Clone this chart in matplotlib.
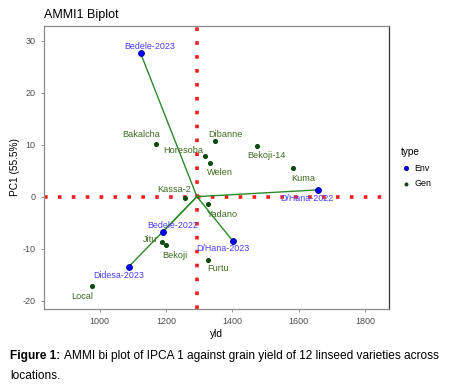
import matplotlib
matplotlib.use('Agg')
import matplotlib.pyplot as plt

plt.rcParams['font.family'] = ['Liberation Sans', 'DejaVu Sans']
plt.rcParams['axes.unicode_minus'] = False

# environment scores (yield, PC1)
env_names = ['Bedele-2023', 'D/Hana-2022', 'D/Hana-2023', 'Bedele-2022', 'Didesa-2023']
env_yld = [1123, 1659, 1401, 1190, 1087]
env_pc1 = [27.6, 1.3, -8.5, -6.8, -13.5]

# genotype scores
gen_names = ['Local', 'Jitu', 'Bekoji', 'Kassa-2', 'Yadano', 'Furtu',
             'Bakalcha', 'Horesoba', 'Dibanne', 'Welen', 'Bekoji-14', 'Kuma']
gen_yld = [977, 1189, 1200, 1258, 1327, 1327, 1170, 1316, 1346, 1331, 1473, 1583]
gen_pc1 = [-17.2, -8.8, -9.3, -0.3, -1.5, -12.1, 10.1, 7.8, 10.7, 6.4, 9.7, 5.5]

mean_yld = 1293
pc_var = 55.5

# label offsets in pixels (dx, dy), dy positive = up
env_off = {'Bedele-2023': (9, 7), 'D/Hana-2022': (-11, -9), 'D/Hana-2023': (-10, -8),
           'Bedele-2022': (10, 6.5), 'Didesa-2023': (-10, -9)}
gen_off = {'Local': (-10, -10.5), 'Jitu': (-12, 2.7), 'Bekoji': (9, -10.7),
           'Kassa-2': (-10.7, 8.3), 'Yadano': (14.6, -10), 'Furtu': (10, -9.3),
           'Bakalcha': (-14.7, 9.3), 'Horesoba': (-21, 5.7), 'Dibanne': (10.5, 6.7),
           'Welen': (10, -9.3), 'Bekoji-14': (10, -9.3), 'Kuma': (10.3, -10.6)}

fig = plt.figure(figsize=(4.52, 3.89), dpi=100)
ax = fig.add_axes([44/452, 1-309/389, 345/452, 283/389])

ax.set_xlim(832, 1872)
ax.set_ylim(-21.6, 32.8)

ax.axhline(0, color='#ff1a1a', lw=2.6, ls=(0, (1, 2.85)), dash_capstyle='butt', zorder=1)
ax.axvline(mean_yld, color='#ff1a1a', lw=2.6, ls=(0, (1, 2.85)), dash_capstyle='butt', zorder=1)

for x, y in zip(env_yld, env_pc1):
    ax.plot([mean_yld, x], [0, y], color='#2a8a2a', lw=1.0, zorder=2)

env_pts = ax.scatter(env_yld, env_pc1, s=18, c='#0000ff', edgecolors='#00008b',
                     linewidths=0.6, zorder=4, label='Env')
gen_pts = ax.scatter(gen_yld, gen_pc1, s=7, c='#0b4a0b', zorder=4, label='Gen')

for n, x, y in zip(env_names, env_yld, env_pc1):
    ax.annotate(n, (x, y), xytext=env_off[n], textcoords='offset pixels',
                ha='center', va='center', fontsize=6.4, color='#4a3cff', zorder=5)
for n, x, y in zip(gen_names, gen_yld, gen_pc1):
    ax.annotate(n, (x, y), xytext=gen_off[n], textcoords='offset pixels',
                ha='center', va='center', fontsize=6.6, color='#3d6b1e', zorder=5)

ax.set_xticks([1000, 1200, 1400, 1600, 1800])
ax.set_yticks([-20, -10, 0, 10, 20, 30])
ax.tick_params(colors='#7f7f7f', labelcolor='#4d4d4d', labelsize=6.5, length=2.5, width=0.6)
for s in ax.spines.values():
    s.set_color('#8c8c8c')
    s.set_linewidth(0.9)
ax.spines['right'].set_color('#333333')

ax.set_xlabel('yld', fontsize=7.3, labelpad=2)
ax.set_ylabel('PC1 (%.1f%%)' % pc_var, fontsize=7.3, labelpad=2)

fig.text(44/452, 1-15/389, 'AMMI1 Biplot', fontsize=9, va='center', ha='left')

leg = ax.legend(handles=[env_pts, gen_pts], title='type', loc='upper left',
                bbox_to_anchor=(393/452, 1-139/389), bbox_transform=fig.transFigure,
                frameon=False, fontsize=6.4, title_fontsize=7.2, handletextpad=0.3,
                markerscale=0.7, labelspacing=0.75, handlelength=1.2)
leg._legend_box.align = 'left'

fig.text(10/452, 1-356/389, 'Figure 1:', fontsize=8.6, fontweight='bold', va='center')
fig.text(64/452, 1-356/389, 'AMMI bi plot of IPCA 1 against grain yield of 12 linseed varieties across',
         fontsize=8.6, va='center')
fig.text(10/452, 1-376/389, 'locations.', fontsize=8.6, va='center')

fig.savefig('out.png', dpi=100)
